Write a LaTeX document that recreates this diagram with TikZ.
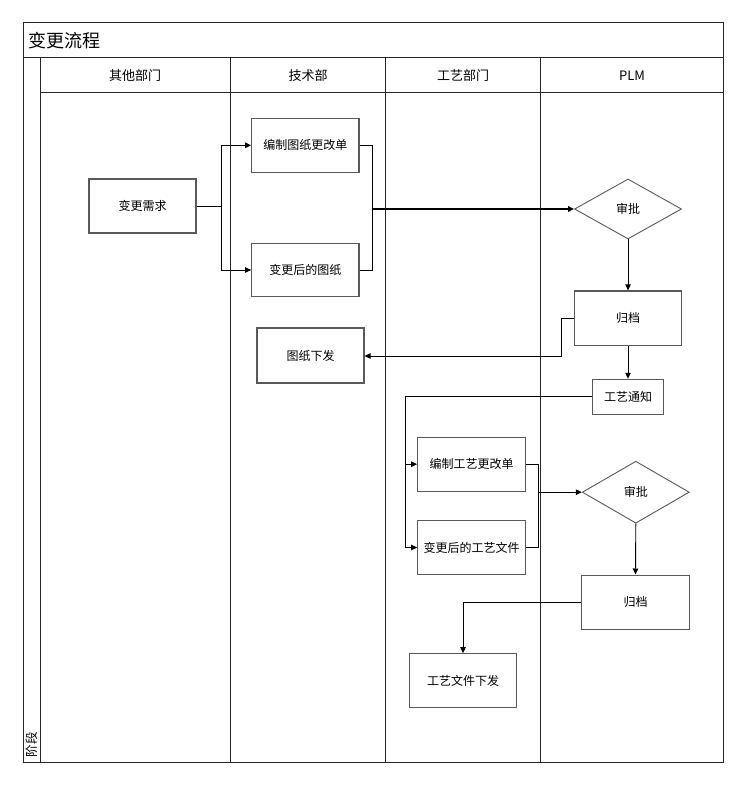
\documentclass[tikz,border=0pt]{standalone}
\usepackage{fontspec}
\setmainfont{Noto Sans CJK SC}
\usetikzlibrary{shapes.geometric,arrows.meta}
\begin{document}
\begin{tikzpicture}[x=1pt,y=-1pt,
  frame/.style={draw=black!85, line width=1pt},
  box/.style={draw=black!65, line width=1.1pt, fill=white, inner sep=0pt,
    minimum width=107pt, minimum height=54pt, font=\fontsize{12}{14}\selectfont},
  dia/.style={diamond, draw=black!65, line width=0.9pt, fill=white, inner sep=0pt,
    minimum width=107pt, minimum height=61pt, font=\fontsize{12}{14}\selectfont},
  conn/.style={draw=black, line width=0.9pt},
  arr/.style={conn, -{Triangle[length=6pt,width=5.5pt]}},
  head/.style={font=\fontsize{13}{15}\selectfont, inner sep=0pt}]
\useasboundingbox (0,0) rectangle (748,786);
% frame
\draw[frame] (23,23) rectangle (723,762);
\draw[frame] (23,58) -- (723,58);
\draw[frame] (40.5,58) -- (40.5,762);
\draw[frame] (40.5,92.7) -- (723,92.7);
\draw[frame] (230,58) -- (230,762);
\draw[frame] (385.7,58) -- (385.7,762);
\draw[frame] (540.7,58) -- (540.7,762);
\node[anchor=west, inner sep=0pt, font=\fontsize{18}{20}\selectfont] (title) at (28,40.5) {变更流程};
\node[rotate=90, inner sep=0pt, font=\fontsize{12.5}{14}\selectfont] (stage) at (31.5,744.5) {阶段};
\node[head] (h1) at (135,75.5) {其他部门};
\node[head] (h2) at (308,75.5) {技术部};
\node[head] (h3) at (463,75.5) {工艺部门};
\node[head] (h4) at (632,75.5) {PLM};
% nodes
\node[box] (req) at (142.5,206) {变更需求};
\node[box, minimum width=107.3pt] (drw1) at (305.3,145.3) {编制图纸更改单};
\node[box, minimum width=107.3pt, minimum height=53.4pt] (drw2) at (305.3,270) {变更后的图纸};
\node[box, minimum height=55pt] (issue) at (310.5,355.5) {图纸下发};
\node[dia, minimum height=60pt] (ap1) at (628,209) {审批};
\node[box, minimum width=107.7pt, minimum height=54.7pt] (arc1) at (628,318.3) {归档};
\node[box, minimum width=70.6pt, minimum height=35pt] (notice) at (628,396.8) {工艺通知};
\node[box, minimum width=108pt, minimum height=53.7pt] (pr1) at (471.7,464.2) {编制工艺更改单};
\node[box, minimum width=108pt, minimum height=53.6pt] (pr2) at (471.7,547.5) {变更后的工艺文件};
\node[dia, minimum height=62pt] (ap2) at (635.8,492.2) {审批};
\node[box, minimum width=107.6pt, minimum height=54.3pt] (arc2) at (635.5,602.2) {归档};
\node[box, minimum width=107.4pt] (pissue) at (463,680.7) {工艺文件下发};
% connectors
\coordinate (j1) at (221.5,206);
\draw[conn] (req.east) -- (j1);
\draw[arr] (j1) |- (drw1.west);
\draw[arr] (j1) |- (drw2.west);
\coordinate (j2) at (372.7,209);
\draw[conn] (drw1.east) -| (j2);
\draw[conn] (drw2.east) -| (j2);
\draw[arr, line width=1.6pt] (j2) -- (ap1.west);
\draw[arr] (ap1.south) -- (arc1.north);
\coordinate (k1) at (561.3,356);
\draw[arr] (arc1.west) -| (k1) -- (k1 -| issue.east);
\draw[arr] (arc1.south) -- (notice.north);
\coordinate (j3) at (405,396.8);
\draw[conn] (notice.west) -- (j3);
\draw[arr] (j3) |- (pr1.west);
\draw[arr] (j3) |- (pr2.west);
\coordinate (j4) at (538.7,492.2);
\draw[conn] (pr1.east) -| (j4);
\draw[conn] (pr2.east) -| (j4);
\draw[arr] (j4) -- (ap2.west);
\draw[arr] (ap2.south) -- (arc2.north);
\draw[arr] (arc2.west) -| (pissue.north);
\end{tikzpicture}
\end{document}
